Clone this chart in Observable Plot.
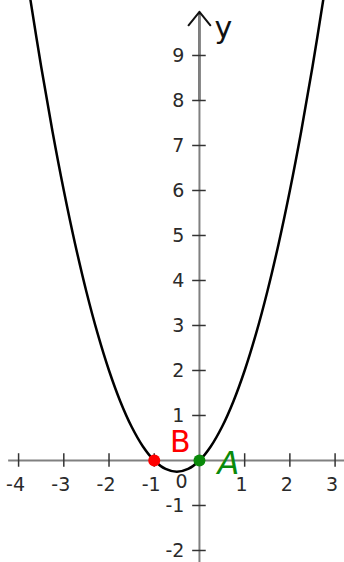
<!DOCTYPE html>
<html>
<head>
<meta charset="utf-8">
<script src="https://cdn.jsdelivr.net/npm/d3@7"></script>
<script src="https://cdn.jsdelivr.net/npm/@observablehq/plot@0.6"></script>
<style>
  html, body { margin: 0; padding: 0; background: #fff; }
  #chart svg { display: block; }
</style>
</head>
<body>
<div id="chart"></div>
<script>
// Parabola y = x² + x, sampled values
const curveX = [-3.75,-3.5,-3.25,-3,-2.75,-2.5,-2.25,-2,-1.75,-1.5,-1.25,-1,-0.75,-0.5,-0.25,0,0.25,0.5,0.75,1,1.25,1.5,1.75,2,2.25,2.5,2.75];
const curveY = [10.3125,8.75,7.3125,6,4.8125,3.75,2.8125,2,1.3125,0.75,0.3125,0,-0.1875,-0.25,-0.1875,0,0.3125,0.75,1.3125,2,2.8125,3.75,4.8125,6,7.3125,8.75,10.3125];

// Points
const pointNames = ["B", "A"];
const pointX = [-1, 0];
const pointY = [0, 0];
const pointColors = ["#ff0000", "#0a8a0a"];

// Tick labels
const xTicks = [-4, -3, -2, -1, 1, 2, 3];
const yTicks = [-2, -1, 1, 2, 3, 4, 5, 6, 7, 8, 9];
const axisLabelY = "y";

const curve = curveX.map((x, i) => ({x, y: curveY[i]}));
const points = pointNames.map((n, i) => ({name: n, x: pointX[i], y: pointY[i], color: pointColors[i]}));

const font = "DejaVu Sans, Verdana, sans-serif";
const tickLen = 0.15;

const chart = Plot.plot({
  width: 344,
  height: 562,
  margin: 0,
  x: {domain: [-4.40, 3.208], axis: null},
  y: {domain: [-2.267, 10.222], axis: null},
  style: {background: "#fff", fontFamily: font},
  marks: [
    // arrow head (black), then gray axis over its shaft
    Plot.arrow([{}], {x1: 0, y1: 8.0, x2: 0, y2: 9.97, stroke: "#111", strokeWidth: 2, headLength: 13, headAngle: 78}),
    // axes
    Plot.ruleY([0], {x1: -4.22, x2: 3.208, stroke: "#808080", strokeWidth: 2}),
    Plot.ruleX([0], {y1: -2.267, y2: 9.9, stroke: "#808080", strokeWidth: 2}),
    // ticks
    Plot.ruleX(xTicks, {x: d => d, y1: -tickLen, y2: tickLen, stroke: "#333", strokeWidth: 1.5}),
    Plot.ruleY(yTicks, {y: d => d, x1: -tickLen, x2: tickLen, stroke: "#333", strokeWidth: 1.5}),
    Plot.text([axisLabelY], {x: 0, y: 9.6, text: d => d, dx: 24, fontSize: 30, fill: "#111", fontFamily: font}),
    // tick labels
    Plot.text(xTicks, {x: d => d, y: 0, text: d => String(d), dy: 24, dx: -3, fontSize: 19, fill: "#2a2a2a"}),
    Plot.text(yTicks, {x: 0, y: d => d, text: d => String(d), dx: -15, textAnchor: "end", fontSize: 19, fill: "#2a2a2a"}),
    Plot.text([0], {x: 0, y: 0, text: d => String(d), dx: -18, dy: 21, fontSize: 19, fill: "#2a2a2a"}),
    // curve
    Plot.line(curve, {x: "x", y: "y", curve: "catmull-rom", stroke: "#000", strokeWidth: 2.5, clip: true}),
    // points
    Plot.dot(points, {x: "x", y: "y", r: 6, fill: "color", stroke: null}),
    Plot.text(points.filter(p => p.name === "B"), {x: "x", y: "y", text: "name", fill: "color", dx: 26, dy: -18, fontSize: 30, fontFamily: font}),
    Plot.text(points.filter(p => p.name === "A"), {x: "x", y: "y", text: "name", fill: "color", dx: 29, dy: 3, fontSize: 32, fontFamily: font, fontStyle: "italic"})
  ]
});
document.getElementById("chart").appendChild(chart);
</script>
</body>
</html>
